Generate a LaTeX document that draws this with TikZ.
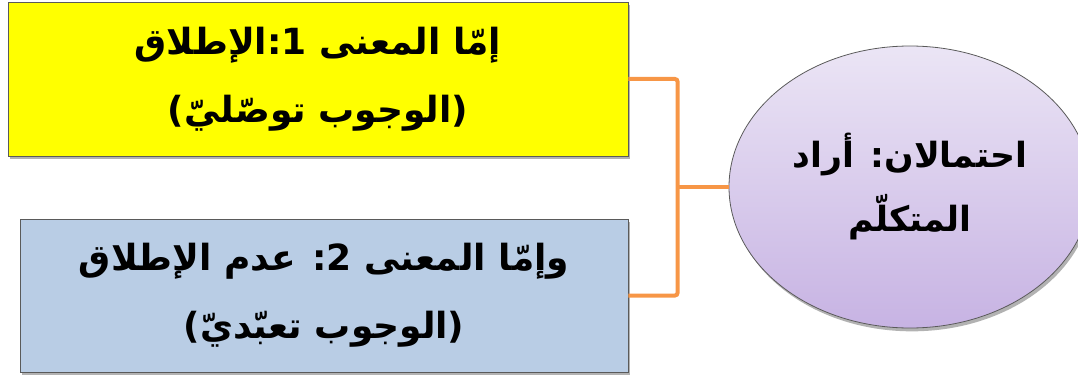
\documentclass[tikz,border=0pt]{standalone}
\usepackage{fontspec}
\newfontfamily\arabicfont[Script=Arabic]{DejaVu Sans}
\TeXXeTstate=1
\usetikzlibrary{positioning,shapes.geometric,shadows}

\definecolor{box-yellow}{HTML}{FFFF00}
\definecolor{box-blue}{HTML}{B9CDE5}
\definecolor{link-orange}{HTML}{F79646}
\definecolor{oval-top}{HTML}{EBE5F5}
\definecolor{oval-bot}{HTML}{C7B3E3}
\definecolor{rim-gray}{HTML}{5A5A5A}

\begin{document}
\begin{tikzpicture}
[
x=0.75pt, y=-0.75pt,
box-a/.style={rectangle, draw=rim-gray, line width=0.6pt, inner sep=0pt, align=center,
  drop shadow={shadow xshift=1.5pt, shadow yshift=-2.5pt, fill=black, opacity=0.3}},
oval-a/.style={ellipse, draw=rim-gray, line width=0.6pt, inner sep=0pt, align=center,
  top color=oval-top, bottom color=oval-bot,
  drop shadow={shadow xshift=1.5pt, shadow yshift=-2.5pt, fill=black, opacity=0.3}},
text-a/.style={font=\arabicfont\bfseries\fontsize{27}{51}\selectfont},
text-b/.style={font=\arabicfont\bfseries\fontsize{26}{48}\selectfont},
link-a/.style={draw=link-orange, line width=3pt, rounded corners=2pt}
]
\useasboundingbox (0,0) rectangle (1078,378);
\node (mean-1) [box-a, text-a, fill=box-yellow, minimum width=465pt, minimum height=115.5pt] at (318,79)
  {\beginR إمّا المعنى 1:الإطلاق\endR\\\beginR (الوجوب توصّليّ)\endR};
\node (mean-2) [box-a, text-a, fill=box-blue, minimum width=456pt, minimum height=114.75pt] at (324,295.5)
  {\beginR وإمّا المعنى 2: عدم الإطلاق\endR\\\beginR (الوجوب تعبّديّ)\endR};
\node (root)   [oval-a, text-b, minimum width=271.5pt, minimum height=211.5pt] at (910,187)
  {\beginR احتمالان: أراد\endR\\\beginR المتكلّم\endR};
% orange bracket joining the two meanings to the oval
\draw [link-a] (root.west) -- ++(-51,0) coordinate (fork);
\draw [link-a] (mean-1.east) -| (fork) |- (mean-2.east);
\end{tikzpicture}
\end{document}
